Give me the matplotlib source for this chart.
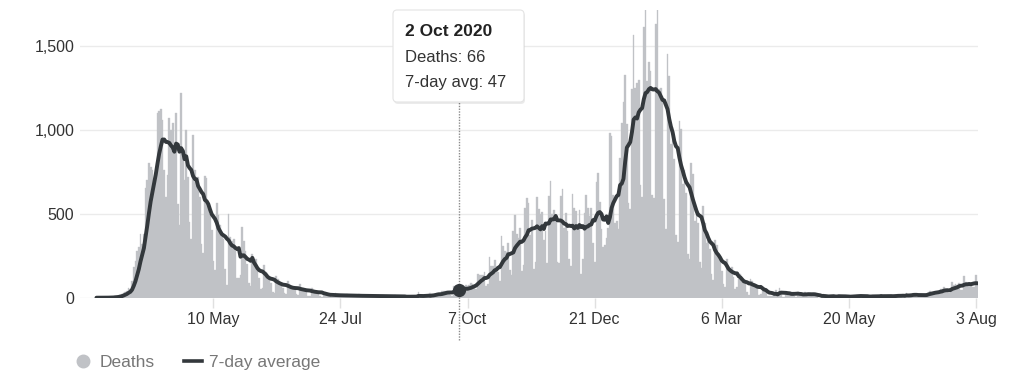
import numpy as np
import pandas as pd
import matplotlib
matplotlib.use('Agg')
import matplotlib.pyplot as plt
from matplotlib.lines import Line2D
from matplotlib.patches import FancyBboxPatch

plt.rcParams['font.family'] = ['Liberation Sans', 'DejaVu Sans']

start_date = '2020-03-02'   # a Monday, rows below are Mon..Sun

# daily deaths, one row per week
deaths_spring_2020 = [
    0, 0, 0, 0, 1, 0, 1,
    1, 2, 3, 2, 8, 6, 9,
    15, 20, 30, 35, 40, 55, 50,
    100, 180, 220, 280, 300, 380, 320,
    380, 650, 700, 800, 780, 760, 700,
    740, 1100, 1110, 1120, 1060, 760, 600,
    730, 1070, 1000, 1040, 880, 1100, 560,
    430, 1220, 880, 700, 1000, 720, 450,
    350, 970, 760, 680, 720, 600, 320,
    265, 724, 712, 560, 500, 400, 220,
    165, 562, 490, 430, 380, 350, 170,
    75, 498, 360, 340, 350, 280, 120,
    120, 135, 420, 340, 280, 200, 90,
]
deaths_summer_2020 = [
    70, 260, 220, 230, 160, 120, 50,
    55, 195, 150, 140, 110, 90, 35,
    30, 130, 110, 100, 80, 60, 25,
    20, 100, 80, 70, 60, 50, 20,
    15, 80, 60, 55, 45, 35, 12,
    10, 60, 45, 40, 35, 25, 10,
    6, 30, 25, 20, 18, 12, 6,
    5, 25, 20, 18, 15, 10, 4,
    4, 22, 18, 16, 13, 9, 4,
    3, 20, 16, 14, 12, 8, 4,
    3, 18, 14, 13, 11, 7, 3,
    3, 16, 13, 11, 10, 6, 3,
    2, 14, 12, 10, 9, 6, 2,
    1, 3, 10, 12, 10, 6, 2,
    3, 32, 8, 14, 6, 9, 5,
    9, 27, 20, 21, 21, 27, 18,
    11, 37, 37, 40, 40, 34, 17,
]
deaths_autumn_2020 = [
    13, 71, 71, 59, 66, 49, 33,
    19, 76, 70, 77, 87, 81, 65,
    50, 143, 137, 138, 136, 150, 67,
    80, 241, 191, 189, 224, 174, 151,
    102, 367, 310, 280, 274, 326, 162,
    136, 397, 492, 378, 355, 413, 156,
    194, 532, 595, 563, 376, 462, 168,
    213, 598, 529, 501, 511, 341, 398,
    206, 608, 696, 498, 521, 479, 215,
    205, 603, 648, 414, 504, 397, 231,
    189, 616, 533, 516, 424, 519, 144,
    232, 506, 612, 532, 489, 534, 326,
    215, 691, 744, 570, 410, 300, 316,
]
deaths_winter_2021 = [
    357, 414, 981, 964, 613, 445, 454,
    407, 830, 1041, 1162, 1325, 1035, 563,
    529, 1243, 1564, 1248, 1280, 1295, 671,
    599, 1610, 1820, 1290, 1401, 1348, 610,
    592, 1631, 1725, 1239, 1245, 1200, 587,
    406, 1449, 1322, 915, 1014, 828, 373,
    333, 1052, 1001, 678, 758, 621, 258,
    230, 799, 738, 454, 533, 445, 215,
    178, 548, 442, 323, 345, 290, 144,
    104, 343, 315, 242, 236, 158, 82,
    65, 231, 190, 175, 181, 121, 52,
    64, 110, 141, 95, 101, 96, 33,
    17, 112, 98, 70, 70, 58, 19,
]
deaths_spring_summer_2021 = [
    23, 56, 43, 51, 10, 10, 10,
    9, 26, 45, 28, 60, 34, 7,
    4, 23, 33, 22, 36, 32, 10,
    4, 33, 22, 16, 18, 32, 14,
    12, 29, 22, 18, 15, 15, 1,
    1, 4, 20, 13, 6, 8, 4,
    2, 11, 9, 11, 17, 7, 4,
    1, 8, 3, 9, 12, 12, 6,
    5, 14, 15, 7, 10, 10, 6,
    1, 3, 12, 13, 11, 12, 4,
    5, 13, 6, 14, 13, 11, 7,
    3, 9, 9, 19, 19, 11, 10,
    7, 4, 27, 16, 21, 18, 23,
    11, 3, 20, 14, 18, 18, 24,
    15, 30, 37, 33, 35, 34, 34,
    26, 50, 50, 63, 49, 41, 28,
    39, 96, 73, 84, 73, 85, 48,
    44, 131, 91, 88, 85, 75, 64,
    64, 138, 86,
]

tick_dates = ['2020-05-10', '2020-07-24', '2020-10-07', '2020-12-21',
              '2021-03-06', '2021-05-20', '2021-08-03']
tick_labels = ['10 May', '24 Jul', '7 Oct', '21 Dec', '6 Mar', '20 May', '3 Aug']
y_ticks = [0, 500, 1000, 1500]
y_labels = ['0', '500', '1,000', '1,500']
hover_date = '2020-10-02'

deaths = np.array(deaths_spring_2020 + deaths_summer_2020 + deaths_autumn_2020
                  + deaths_winter_2021 + deaths_spring_summer_2021)
dates = pd.date_range(start_date, periods=len(deaths), freq='D')
avg7 = pd.Series(deaths).rolling(7, min_periods=1).mean().values

bar_col = '#c0c2c6'
line_col = '#33383c'

W, H = 1024, 387
fig = plt.figure(figsize=(W / 100, H / 100), dpi=100)
ax = fig.add_axes([80 / W, 1 - 297.7 / H, 898 / W, 287.7 / H])

ax.bar(dates, deaths, width=1.0, color=bar_col, edgecolor=bar_col,
       linewidth=0.25, zorder=2)
ax.plot(dates, avg7, color=line_col, lw=2.8, zorder=3,
        solid_joinstyle='round', solid_capstyle='round')

hi = int(np.where(dates == pd.Timestamp(hover_date))[0][0])
ax.axvline(dates[hi], ymin=-0.147, ymax=0.68, color='#8a8a8a', lw=1,
           linestyle=(0, (1, 1)), clip_on=False, zorder=5)
ax.plot(dates[hi], avg7[hi], 'o', ms=8.5, color=line_col, zorder=6)

t0 = pd.Timestamp(start_date)
ax.set_xlim(t0 - pd.Timedelta(days=9.7), t0 + pd.Timedelta(days=520.2))
ax.set_ylim(0, 1712)

ax.set_yticks(y_ticks)
ax.set_yticklabels(y_labels)
ax.set_xticks(pd.to_datetime(tick_dates))
ax.set_xticklabels(tick_labels)
ax.grid(axis='y', color='#ebebeb', lw=1)
ax.set_axisbelow(True)
for s in ax.spines.values():
    s.set_visible(False)
ax.tick_params(axis='y', length=0, pad=4, labelsize=11.5, labelcolor='#333333')
ax.tick_params(axis='x', length=7, width=1, color='#e0e0e0', pad=3,
               labelsize=11.5, labelcolor='#333333')

# tooltip
tx0, ty0, tw, th = 393 / W, 1 - 102 / H, 131 / W, 92 / H
shadow = FancyBboxPatch((tx0 + 1 / W, ty0 - 2 / H), tw, th,
                        boxstyle='round,pad=0,rounding_size=0.004',
                        mutation_aspect=W / H, transform=fig.transFigure,
                        facecolor='#000000', alpha=0.08, linewidth=0, zorder=7)
box = FancyBboxPatch((tx0, ty0), tw, th,
                     boxstyle='round,pad=0,rounding_size=0.004',
                     mutation_aspect=W / H, transform=fig.transFigure,
                     facecolor='white', edgecolor='#e4e4e4', lw=0.8, zorder=8)
fig.patches.extend([shadow, box])
date_txt = dates[hi].strftime('%d %b %Y').lstrip('0')
fig.text(405 / W, 1 - 32 / H, date_txt, fontsize=12.5, fontweight='bold',
         color='#222222', va='center', zorder=9)
fig.text(405 / W, 1 - 58 / H, 'Deaths: %d' % deaths[hi], fontsize=12,
         color='#333333', va='center', zorder=9)
fig.text(405 / W, 1 - 82 / H, '7-day avg: %d' % round(avg7[hi]), fontsize=12,
         color='#333333', va='center', zorder=9)

handles = [Line2D([], [], marker='o', linestyle='none', color=bar_col, markersize=9),
           Line2D([], [], color=line_col, lw=2.6)]
leg = fig.legend(handles, ['Deaths', '7-day average'], loc='center left',
                 bbox_to_anchor=(74 / W, 1 - 362 / H), ncol=2, frameon=False,
                 fontsize=12.5, handlelength=1.05, handletextpad=0.4,
                 columnspacing=1.7, borderpad=0, borderaxespad=0)
for t in leg.get_texts():
    t.set_color('#777777')

fig.savefig('out.png', dpi=100)
